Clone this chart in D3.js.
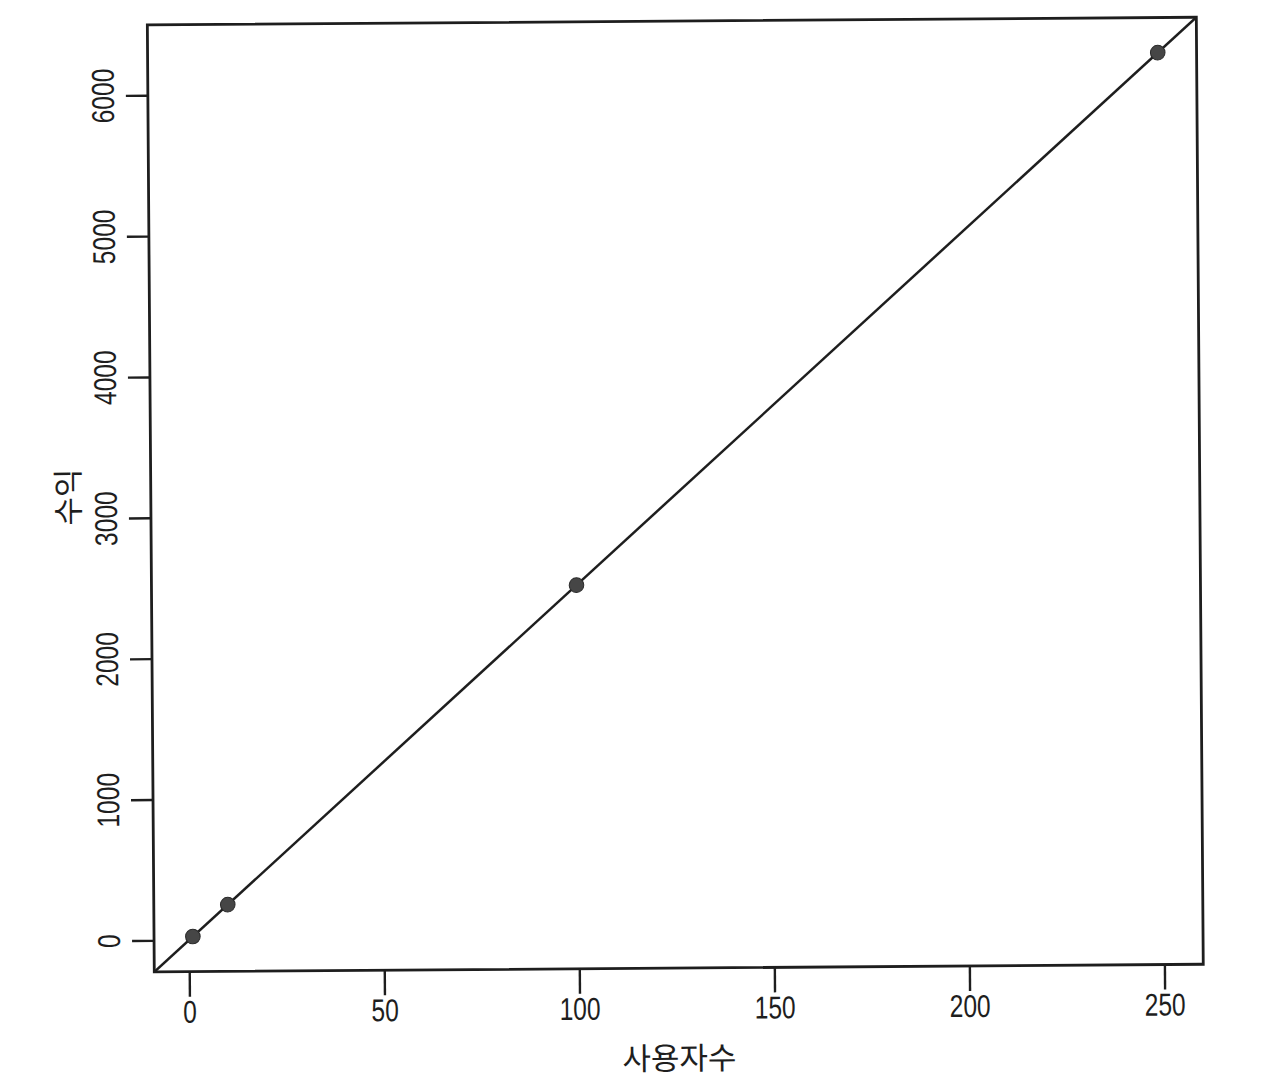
<!DOCTYPE html>
<html>
<head>
<meta charset="utf-8">
<script src="https://cdn.jsdelivr.net/npm/d3@7"></script>
<style>
  html, body { margin: 0; padding: 0; background: #ffffff; }
  svg { display: block; }
</style>
</head>
<body>
<svg id="chart" width="1280" height="1079"></svg>
<script>
// ---- data ----
const users   = [1, 10, 100, 250];          // 사용자수
const revenue = [25, 250, 2500, 6250];      // 수익
const xTicks  = [0, 50, 100, 150, 200, 250];
const yTicks  = [0, 1000, 2000, 3000, 4000, 5000, 6000];
const fitIntercept = 0;
const fitSlope = 25;
const xTitle = "사용자수";
const yTitle = "수익";

// ---- layout ----
const W = 1280, H = 1079;
const L = 150.8, R = 1199.8, T = 21.1, B = 968.1;
const ink = "#1e1e1e";
const numFont = "'Liberation Sans', Arial, sans-serif";
const krFont = "'Noto Sans CJK KR', 'Noto Sans', sans-serif";
const narrow = 0.78;

// R-style 4% padding
function pad(ext) { const r = ext[1] - ext[0]; return [ext[0] - 0.04 * r, ext[1] + 0.04 * r]; }

const x = d3.scaleLinear().domain(pad(d3.extent(users))).range([L, R]);
const y = d3.scaleLinear().domain(pad(d3.extent(revenue))).range([B, T]);

const svg = d3.select("#chart");
svg.append("rect").attr("width", W).attr("height", H).attr("fill", "#fff");

// slight scan rotation
const g = svg.append("g").attr("transform", `rotate(-0.42, ${(L + R) / 2}, ${(T + B) / 2})`);

g.append("clipPath").attr("id", "plotclip")
  .append("rect").attr("x", L).attr("y", T).attr("width", R - L).attr("height", B - T);

// fitted line
const xd = x.domain();
g.append("line")
  .attr("clip-path", "url(#plotclip)")
  .attr("x1", x(xd[0])).attr("y1", y(fitIntercept + fitSlope * xd[0]))
  .attr("x2", x(xd[1])).attr("y2", y(fitIntercept + fitSlope * xd[1]))
  .attr("stroke", ink).attr("stroke-width", 2.5);

// points
g.selectAll("circle.pt").data(users.map((u, i) => [u, revenue[i]]))
  .enter().append("circle").attr("class", "pt")
  .attr("cx", d => x(d[0])).attr("cy", d => y(d[1]))
  .attr("r", 7.3)
  .attr("fill", "#464646").attr("stroke", "#2a2a2a").attr("stroke-width", 1);

// box
g.append("rect").attr("x", L).attr("y", T).attr("width", R - L).attr("height", B - T)
  .attr("fill", "none").attr("stroke", ink).attr("stroke-width", 2.8);

// x axis
const xAxis = g.append("g").attr("transform", `translate(0,${B})`)
  .call(d3.axisBottom(x).tickValues(xTicks).tickSize(25).tickPadding(4).tickFormat(d3.format("d")));
xAxis.select(".domain").remove();
xAxis.selectAll(".tick line").attr("stroke", ink).attr("stroke-width", 2.4);
xAxis.selectAll(".tick text")
  .attr("y", 51).attr("dy", null)
  .attr("transform", `scale(${narrow},1)`)
  .attr("fill", ink).attr("font-family", numFont).attr("font-size", 31.5);

// y axis
const yAxis = g.append("g").attr("transform", `translate(${L},0)`)
  .call(d3.axisLeft(y).tickValues(yTicks).tickSize(22).tickFormat(d3.format("d")));
yAxis.select(".domain").remove();
yAxis.selectAll(".tick line").attr("stroke", ink).attr("stroke-width", 2.4);
yAxis.selectAll(".tick text")
  .attr("x", null).attr("y", null).attr("dy", null)
  .attr("text-anchor", "middle")
  .attr("transform", `translate(-34,0) rotate(-90) scale(${narrow},1)`)
  .attr("fill", ink).attr("font-family", numFont).attr("font-size", 31.5);

// titles
g.append("text").attr("x", (L + R) / 2).attr("y", 1056)
  .attr("text-anchor", "middle").attr("dominant-baseline", "central")
  .attr("font-family", krFont).attr("font-size", 31).attr("fill", ink)
  .text(xTitle);

g.append("text")
  .attr("transform", `translate(66,${(T + B) / 2 - 2}) rotate(-90)`)
  .attr("text-anchor", "middle").attr("dominant-baseline", "central")
  .attr("font-family", krFont).attr("font-size", 31).attr("fill", ink)
  .text(yTitle);
</script>
</body>
</html>
